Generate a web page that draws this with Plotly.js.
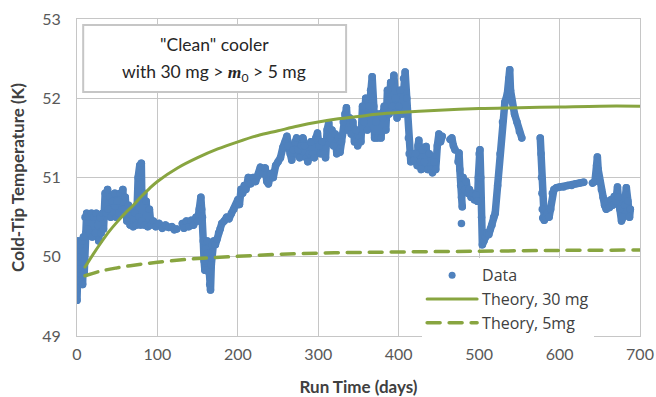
<!DOCTYPE html>
<html>
<head>
<meta charset="utf-8">
<script src="https://cdn.plot.ly/plotly-3.0.1.min.js"></script>
<style>
html,body{margin:0;padding:0;background:#fff;}
#chart{width:656px;height:397px;}
.js-line{stroke-linejoin:round !important;stroke-linecap:round !important;}
</style>
</head>
<body>
<div id="chart"></div>
<script>
// Measured data (days, K); null separates gaps in the record
const dataDays = [
0,0.5,1,1.5,2,3,4,5,6,7,8,9,10,11,12,13,15,16,18,19,21,23,24,26,27,29,30,32,33,35,36,38,39,41,42,44,46,47,49,50,52,54,56,57,58,60,62,64,66,68,70,72,74,76,77,78,79,80,81,83,84,86,88,90,92,95,98,102,106,110,114,118,121,124,null,
131,133,136,139,142,145,148,150,152,154,155,156,157,158,159,160,161,162,163,164,165,166,167,168,170,172,174,176,178,180,183,186,189,192,195,198,200,202,204,206,208,210,213,216,219,222,225,228,231,234,236,238,241,244,247,250,253,256,259,261,263,265,267,269,271,273,275,277,279,281,283,285,287,289,291,293,295,297,299,301,303,305,307,309,311,313,315,317,319,321,323,325,327,329,331,333,335,337,339,341,343,345,347,349,351,353,355,357,359,361,363,365,367,369,370,372,374,376,378,380,382,384,386,388,390,392,394,396,398,400,402,404,406,408,410,411,412,413,415,417,419,421,423,424,425,427,428,430,432,434,436,438,440,442,444,446,448,450,452,454,null,
464,466,468,470,null,
474,475,476,477,478,479,null,
478,null,
480,482,484,486,488,490,492,494,496,498,499,500,501,502,503,504,506,508,510,512,514,516,518,520,523,526,529,532,535,537,538,539,541,544,547,550,553,null,
576,577,577.5,578,578.5,579,581,583,585,587,589,591,593,596,600,605,610,615,620,625,630,null,
641,644,646,647,648,650,652,654,656,658,660,662,664,666,668,670,672,673,675,677,679,681,683,685,687,688
];
const dataTemp = [
49.45,49.6,50.0,49.7,50.2,49.85,50.15,49.7,50.2,49.65,50.25,49.8,50.5,50.3,50.55,50.35,50.5,50.3,50.55,50.25,50.5,50.3,50.55,50.4,50.2,50.5,50.3,50.55,50.35,50.8,50.55,50.85,50.6,50.75,50.5,50.7,50.55,50.8,50.5,50.7,50.55,50.8,50.6,50.85,50.6,50.75,50.45,50.65,50.4,50.6,50.38,50.55,50.4,51.0,50.5,51.15,50.4,51.18,50.45,50.8,50.4,50.7,50.38,50.6,50.4,50.45,50.38,50.42,50.36,50.4,50.37,50.38,50.34,50.35,null,
50.42,50.36,50.45,50.38,50.46,50.4,50.5,50.45,50.6,50.75,50.6,50.5,50.2,49.95,49.83,50.1,50.0,50.2,50.05,49.8,49.65,49.58,49.9,50.15,50.2,50.15,50.22,50.3,50.35,50.42,50.45,50.5,50.48,50.55,50.6,50.65,50.72,50.66,50.85,50.8,50.9,50.85,51.0,50.92,51.0,50.95,51.02,51.13,51.05,51.12,50.95,50.92,51.05,51.0,51.15,51.2,51.25,51.38,51.45,51.52,51.4,51.3,51.22,51.35,51.45,51.5,51.35,51.25,51.4,51.5,51.4,51.25,51.2,51.3,51.45,51.3,51.25,51.5,51.56,51.4,51.3,51.45,51.3,51.25,51.6,51.69,51.5,51.6,51.4,51.55,51.3,51.5,51.32,51.45,51.7,51.8,51.88,51.6,51.75,51.55,51.7,51.45,51.6,51.4,51.5,51.45,51.9,51.7,52.0,51.6,51.9,52.1,52.27,51.9,51.5,51.7,51.5,51.8,51.5,51.75,51.9,51.6,52.1,51.8,52.2,51.9,52.29,52.0,51.75,51.9,52.1,51.8,52.25,52.33,52.0,51.8,51.5,51.3,51.2,51.3,51.22,51.3,51.15,51.4,51.47,51.2,51.1,51.35,51.2,51.39,51.1,51.3,51.1,51.06,51.2,51.1,51.4,51.55,51.45,51.52,null,
51.48,51.5,51.4,51.35,null,
51.2,51.31,51.1,50.9,50.75,50.63,null,
50.42,null,
51.0,50.85,50.95,50.8,50.85,50.75,50.8,50.72,50.78,50.7,51.0,51.3,51.35,51.0,50.5,50.15,50.2,50.25,50.3,50.28,50.35,50.4,50.5,50.55,50.9,51.3,51.7,51.95,52.05,52.25,52.36,52.1,51.95,51.8,51.7,51.58,51.5,null,
51.5,51.3,51.0,50.8,50.6,50.49,50.46,50.5,50.55,50.5,50.6,50.8,50.85,50.87,50.88,50.88,50.9,50.9,50.92,50.93,50.94,null,
50.93,50.95,51.15,51.26,51.1,50.95,50.85,50.75,50.65,50.6,50.7,50.62,50.72,50.65,50.76,50.7,50.88,50.75,50.6,50.45,50.5,50.65,50.87,50.7,50.5,50.6
];
const theory30Days = [10,20,30,40,50,60,70,80,90,100,125,150,175,200,225,250,275,300,325,350,375,400,450,500,550,600,650,700];
const theory30Temp = [49.87,50.03,50.18,50.32,50.44,50.55,50.65,50.76,50.86,50.95,51.12,51.25,51.36,51.45,51.53,51.59,51.65,51.70,51.74,51.77,51.80,51.82,51.85,51.87,51.88,51.89,51.90,51.90];
const theory5Days = [10,30,50,75,100,140,190,250,320,400,500,600,700];
const theory5Temp = [49.76,49.82,49.86,49.90,49.93,49.97,50.00,50.03,50.05,50.06,50.07,50.08,50.085];
const seriesNames = ['Data','Theory, 30 mg','Theory, 5mg'];
const xTickVals = [0,100,200,300,400,500,600,700];
const yTickVals = [49,50,51,52,53];

const blue = '#4F81BD';
const green = '#88A540';
const font = 'Lato, "Open Sans", sans-serif';
const legendFont = '"Open Sans", Lato, sans-serif';

const traces = [
  {x: dataDays, y: dataTemp, type:'scatter', mode:'lines+markers', connectgaps:false,
   line:{color:blue, width:7.5}, marker:{color:blue, size:7.5}, showlegend:false, hoverinfo:'skip'},
  {x:[null], y:[null], type:'scatter', mode:'markers', name:seriesNames[0],
   marker:{color:blue, size:7}},
  {x: theory30Days, y: theory30Temp, type:'scatter', mode:'lines', name:seriesNames[1],
   line:{color:green, width:3, shape:'spline'}},
  {x: theory5Days, y: theory5Temp, type:'scatter', mode:'lines', name:seriesNames[2],
   line:{color:green, width:3.5, dash:'13px,9px', shape:'spline'}}
];

const layout = {
  width:656, height:397,
  margin:{l:77, r:16, t:19, b:61},
  paper_bgcolor:'#fff', plot_bgcolor:'#fff',
  font:{family:font, color:'#404040'},
  xaxis:{range:[0,700], tickvals:xTickVals, showgrid:true, gridcolor:'#C6C6C6', gridwidth:1,
    showline:true, linecolor:'#C6C6C6', mirror:true, zeroline:false, ticks:'',
    tickfont:{family:font, size:16, color:'#595959'}, ticklabelstandoff:4,
    title:{text:'<b>Run Time (days)</b>', font:{family:font, size:17, color:'#404040'}, standoff:20}},
  yaxis:{range:[49,53], tickvals:yTickVals, showgrid:true, gridcolor:'#C6C6C6', gridwidth:1,
    showline:true, linecolor:'#C6C6C6', mirror:true, zeroline:false, ticks:'',
    tickfont:{family:font, size:16, color:'#595959'}, ticklabelstandoff:12,
    title:{text:'<b>Cold-Tip Temperature (K)</b>', font:{family:font, size:17, color:'#404040'}, standoff:13}},
  legend:{x:0.613, y:0.245, xanchor:'left', yanchor:'top', bgcolor:'#fff',
    font:{family:legendFont, size:16, color:'#404040'}, tracegroupgap:0, itemwidth:50},
  shapes:[{type:'rect', xref:'paper', yref:'paper', x0:0.011, x1:0.478, y0:0.770, y1:0.981,
    line:{color:'#C6C6C6', width:2}, fillcolor:'#fff', layer:'above'}],
  annotations:[
    {xref:'paper', yref:'paper', x:0.244, y:0.918, text:'"Clean" cooler', showarrow:false,
     font:{family:font, size:17.5, color:'#262626'}, xanchor:'center', yanchor:'middle'},
    {xref:'paper', yref:'paper', x:0.244, y:0.830,
     text:'with 30 mg > <span style="font-family:\'Liberation Serif\'"><b><i>m</i></b></span><sub>0</sub> > 5 mg', showarrow:false,
     font:{family:font, size:17.5, color:'#262626'}, xanchor:'center', yanchor:'middle'}
  ]
};

Plotly.newPlot('chart', traces, layout, {displayModeBar:false, staticPlot:true});
</script>
</body>
</html>
